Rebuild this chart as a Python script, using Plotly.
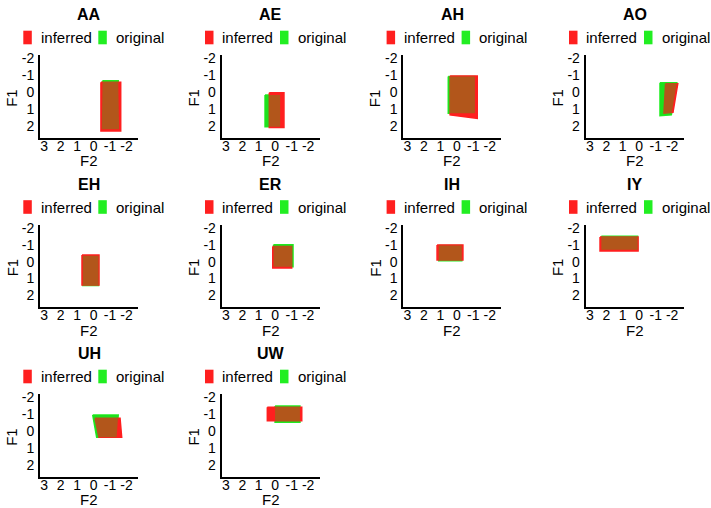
import plotly.graph_objects as go

# ---------------- data ----------------
phonemes = ["AA", "AE", "AH", "AO", "EH", "ER", "IH", "IY", "UH", "UW"]
series_names = ["inferred", "original"]

# outline of each point cloud: corners top-left, top-right, bottom-right, bottom-left
inferred_f2 = [
    [-0.45, -1.65, -1.65, -0.45],
    [0.36, -0.53, -0.53, 0.36],
    [0.41, -1.24, -1.24, 0.41],
    [-1.60, -2.34, -2.05, -1.50],
    [0.70, -0.33, -0.33, 0.70],
    [0.15, -1.00, -1.00, 0.15],
    [1.20, -0.37, -0.37, 1.20],
    [2.38, 0.07, 0.07, 2.38],
    [-0.09, -1.61, -1.71, -0.33],
    [0.48, -1.61, -1.61, 0.48],
]
inferred_f1 = [
    [-0.58, -0.58, 2.30, 2.30],
    [0.03, 0.03, 2.10, 2.10],
    [-0.96, -0.96, 1.55, 1.35],
    [-0.50, -0.50, 1.20, 1.25],
    [-0.40, -0.40, 1.38, 1.38],
    [-0.90, -0.90, 0.37, 0.37],
    [-0.99, -0.99, -0.10, -0.10],
    [-1.46, -1.46, -0.63, -0.63],
    [-0.76, -0.76, 0.36, 0.36],
    [-1.41, -1.41, -0.62, -0.62],
]
original_f2 = [
    [-0.55, -1.50, -1.55, -0.50],
    [0.62, -0.30, -0.30, 0.62],
    [0.52, -1.10, -1.10, 0.52],
    [-1.26, -2.28, -1.95, -1.26],
    [0.65, -0.30, -0.30, 0.65],
    [0.10, -1.08, -1.08, 0.10],
    [1.10, -0.30, -0.30, 1.10],
    [2.30, 0.10, 0.10, 2.30],
    [0.05, -1.50, -1.40, -0.19],
    [0.01, -1.50, -1.50, 0.01],
]
original_f1 = [
    [-0.68, -0.68, 2.20, 2.20],
    [0.17, 0.17, 2.05, 2.05],
    [-0.92, -0.92, 1.25, 1.25],
    [-0.55, -0.55, 1.35, 1.40],
    [-0.35, -0.35, 1.42, 1.42],
    [-1.00, -1.00, 0.30, 0.30],
    [-0.95, -0.95, -0.05, -0.05],
    [-1.50, -1.50, -0.70, -0.70],
    [-0.96, -0.96, 0.36, 0.36],
    [-1.49, -1.49, -0.52, -0.52],
]

f2_ticks = [3, 2, 1, 0, -1, -2]
f1_ticks = [-2, -1, 0, 1, 2]
f2_ticktext = [str(v) for v in f2_ticks]
f1_ticktext = [str(v) for v in f1_ticks]

# ---------------- styling / layout ----------------
W, H = 711, 508
RED = "#ff1f1f"
GREEN = "#22ee22"
FONT = "Liberation Sans, Arial, Helvetica, sans-serif"
col_left = [40, 221.7, 403.3, 585.7]
row_top = [55, 224.5, 394]
PW, PH = 98, 82.7

fig = go.Figure()
annotations = []
shapes = []


def px_x(v):
    return v / W


def px_y(v):
    return 1 - v / H


def closed(v):
    return list(v) + [v[0]]


for i, name in enumerate(phonemes):
    r, c = divmod(i, 4)
    L, T = col_left[c], row_top[r]
    ax = "" if i == 0 else str(i + 1)
    xa, ya = "x" + ax, "y" + ax

    # original (green), inferred (red), then translucent green where they overlap
    fig.add_trace(go.Scatter(x=closed(original_f2[i]), y=closed(original_f1[i]),
                             xaxis=xa, yaxis=ya, mode="lines", fill="toself",
                             fillcolor=GREEN, line=dict(color=GREEN, width=1.5),
                             name="original", showlegend=False, hoverinfo="skip"))
    fig.add_trace(go.Scatter(x=closed(inferred_f2[i]), y=closed(inferred_f1[i]),
                             xaxis=xa, yaxis=ya, mode="lines", fill="toself",
                             fillcolor=RED, line=dict(color=RED, width=1.5),
                             name="inferred", showlegend=False, hoverinfo="skip"))
    fig.add_trace(go.Scatter(x=closed(original_f2[i]), y=closed(original_f1[i]),
                             xaxis=xa, yaxis=ya, mode="lines", fill="toself",
                             fillcolor="rgba(20,200,20,0.33)", line=dict(width=0),
                             name="original", showlegend=False, hoverinfo="skip"))

    axis_common = dict(showgrid=False, zeroline=False, showline=True,
                       linecolor="black", linewidth=2, ticks="",
                       tickangle=0, automargin=False,
                       tickfont=dict(family=FONT, size=14, color="black"))
    fig.update_layout(**{
        "xaxis" + ax: dict(domain=[px_x(L), px_x(L + PW)], anchor=ya,
                           range=[3.25, -2.7], tickvals=f2_ticks, ticktext=f2_ticktext,
                           ticklabelstandoff=-6, **axis_common),
        "yaxis" + ax: dict(domain=[px_y(T + PH), px_y(T)], anchor=xa,
                           range=[2.7, -2.2], tickvals=f1_ticks, ticktext=f1_ticktext,
                           ticklabelstandoff=1, **axis_common),
    })

    # axis titles
    annotations.append(dict(text="F2", x=px_x(L + PW / 2), y=px_y(T + PH + 22.8),
                            xref="paper", yref="paper", showarrow=False, borderpad=0,
                            xanchor="center", yanchor="middle",
                            font=dict(family=FONT, size=15, color="black")))
    annotations.append(dict(text="F1", x=px_x(L - 28), y=px_y(T + PH / 2 + 1.5),
                            xref="paper", yref="paper", showarrow=False, textangle=-90,
                            xanchor="center", yanchor="middle",
                            font=dict(family=FONT, size=15, color="black")))
    # panel title
    annotations.append(dict(text="<b>%s</b>" % name, x=px_x(L + PW / 2), y=px_y(T - 40.5),
                            xref="paper", yref="paper", showarrow=False,
                            xanchor="center", yanchor="middle",
                            font=dict(family=FONT, size=16, color="black")))
    # legend
    for lab, colr, x0, tx in [("inferred", RED, -16.7, -1.5),
                              ("original", GREEN, 58.3, 74)]:
        shapes.append(dict(type="rect", xref="paper", yref="paper",
                           x0=px_x(L + x0), x1=px_x(L + x0 + 8.5),
                           y0=px_y(T - 10.7), y1=px_y(T - 24.3),
                           fillcolor=colr, line=dict(width=0)))
        annotations.append(dict(text=lab, x=px_x(L + tx), y=px_y(T - 17.3),
                                xref="paper", yref="paper", showarrow=False,
                                xanchor="left", yanchor="middle",
                                font=dict(family=FONT, size=15, color="black")))

fig.update_layout(width=W, height=H, autosize=False,
                  margin=dict(l=0, r=0, t=0, b=0, pad=0),
                  paper_bgcolor="white", plot_bgcolor="white",
                  showlegend=False, annotations=annotations, shapes=shapes)

# the page body has a default 8 px margin; remove it so the figure fills the window
fig.write_html("out.html", config={"displayModeBar": False},
               post_script="document.body.style.margin='0px';document.body.style.overflow='hidden';")
